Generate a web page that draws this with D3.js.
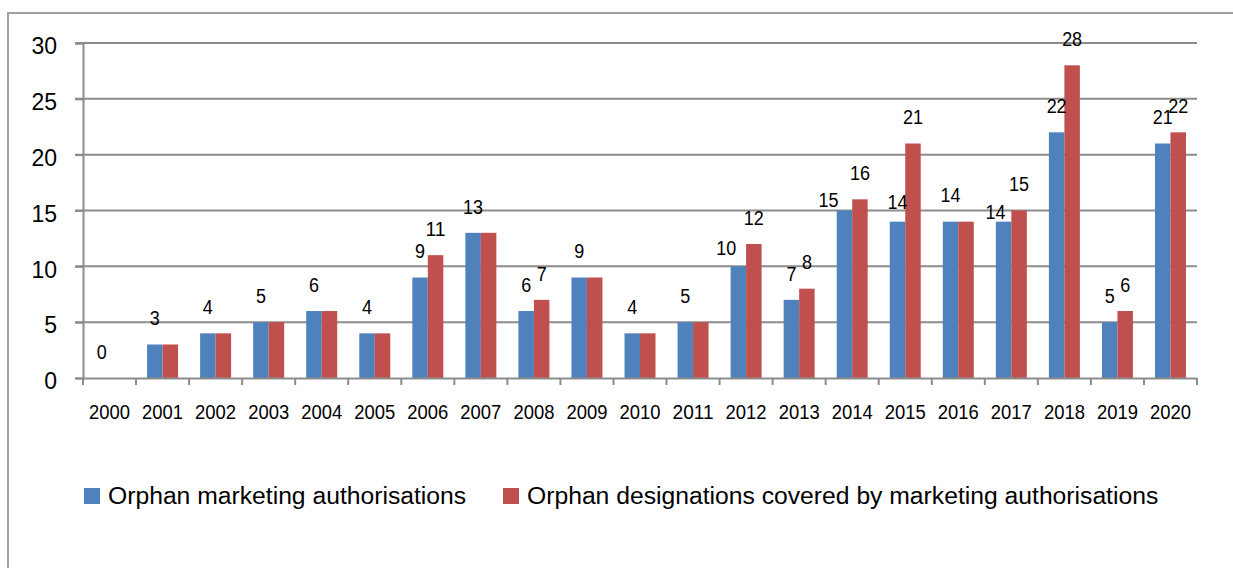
<!DOCTYPE html>
<html>
<head>
<meta charset="utf-8">
<script src="https://cdn.jsdelivr.net/npm/d3@7"></script>
<style>
  body { margin: 0; background: #fff; }
  text { font-family: "Liberation Sans", Arial, sans-serif; fill: #000; }
</style>
</head>
<body>
<div id="chart"></div>
<script>
var years = ["2000","2001","2002","2003","2004","2005","2006","2007","2008","2009","2010",
             "2011","2012","2013","2014","2015","2016","2017","2018","2019","2020"];
var authorisations = [0,3,4,5,6,4,9,13,6,9,4,5,10,7,15,14,14,14,22,5,21];
var designations   = [0,3,4,5,6,4,11,13,7,9,4,5,12,8,16,21,14,15,28,6,22];
var seriesNames = ["Orphan marketing authorisations", "Orphan designations covered by marketing authorisations"];
var yTicks = [0,5,10,15,20,25,30];

// hand-moved data labels of the blue series in the original (pixel nudges)
var labelNudge = { "2012": [-12, 8], "2014": [-16, 15.5], "2015": [0, 7], "2017": [-8, 16.5] };

var width = 1233, height = 568;
var colors = ["#4F81BD", "#C0504D"];
var gridColor = "#8c8c8c";

var svg = d3.select("#chart").append("svg")
  .attr("width", width).attr("height", height);

// outer chart border (runs off the right and bottom edges)
svg.append("rect")
  .attr("x", 8).attr("y", 13)
  .attr("width", 1240).attr("height", 580)
  .attr("fill", "none").attr("stroke", "#a0a0a0").attr("stroke-width", 2);

var margin = { top: 43, left: 83, right: 1197, bottom: 378 };

var x = d3.scaleBand()
  .domain(years)
  .range([margin.left, margin.right])
  .paddingInner(0).paddingOuter(0);

var y = d3.scaleLinear()
  .domain([0, 30])
  .range([margin.bottom, margin.top]);

var barW = x.bandwidth() * 0.292;

// gridlines
svg.append("g").selectAll("line")
  .data(yTicks.filter(function(d) { return d > 0; }))
  .enter().append("line")
  .attr("x1", margin.left - 8).attr("x2", margin.right)
  .attr("y1", function(d) { return y(d); })
  .attr("y2", function(d) { return y(d); })
  .attr("stroke", gridColor).attr("stroke-width", 2);

// y axis
var yAxis = svg.append("g")
  .attr("transform", "translate(" + margin.left + ",0)")
  .call(d3.axisLeft(y).tickValues(yTicks).tickSize(8).tickPadding(18));
yAxis.select(".domain").attr("stroke", gridColor).attr("stroke-width", 2);
yAxis.selectAll(".tick line").attr("stroke", gridColor).attr("stroke-width", 2);
yAxis.selectAll(".tick text")
  .attr("dy", "0.47em")
  .style("font-size", "23px")
  .style("font-family", "Liberation Sans, Arial, sans-serif")
  .attr("fill", "#000");

// bars
var groups = svg.append("g").selectAll("g")
  .data(years)
  .enter().append("g");

groups.append("rect")
  .attr("x", function(d) { return x(d) + x.bandwidth() / 2 - barW; })
  .attr("y", function(d, i) { return y(authorisations[i]); })
  .attr("width", barW)
  .attr("height", function(d, i) { return y(0) - y(authorisations[i]); })
  .attr("fill", colors[0]);

groups.append("rect")
  .attr("x", function(d) { return x(d) + x.bandwidth() / 2; })
  .attr("y", function(d, i) { return y(designations[i]); })
  .attr("width", barW)
  .attr("height", function(d, i) { return y(0) - y(designations[i]); })
  .attr("fill", colors[1]);

// x axis
var xAxis = svg.append("g")
  .attr("transform", "translate(0," + margin.bottom + ")")
  .call(d3.axisBottom(x).tickSize(0).tickPadding(27));
xAxis.select(".domain").attr("stroke", gridColor).attr("stroke-width", 2);
xAxis.selectAll(".tick text")
  .style("font-size", "20px")
  .style("font-family", "Liberation Sans, Arial, sans-serif")
  .attr("textLength", 41)
  .attr("lengthAdjust", "spacingAndGlyphs")
  .attr("fill", "#000");

// category separator ticks
svg.append("g").selectAll("line")
  .data(d3.range(years.length + 1))
  .enter().append("line")
  .attr("x1", function(i) { return margin.left + i * x.step(); })
  .attr("x2", function(i) { return margin.left + i * x.step(); })
  .attr("y1", margin.bottom).attr("y2", margin.bottom + 7)
  .attr("stroke", gridColor).attr("stroke-width", 2);

// data labels
function nudge(d, k) { return labelNudge[d] ? labelNudge[d][k] : 0; }

groups.append("text")
  .attr("x", function(d) { return x(d) + x.bandwidth() / 2 - barW / 2 + nudge(d, 0); })
  .attr("y", function(d, i) { return y(authorisations[i]) - 19.3 + nudge(d, 1); })
  .attr("text-anchor", "middle")
  .style("font-size", "20px")
  .attr("textLength", function(d, i) { return String(authorisations[i]).length * 10; })
  .attr("lengthAdjust", "spacingAndGlyphs")
  .text(function(d, i) { return authorisations[i]; });

groups.filter(function(d, i) { return designations[i] !== authorisations[i]; })
  .append("text")
  .attr("x", function(d) { return x(d) + x.bandwidth() / 2 + barW / 2; })
  .attr("y", function(d) { return y(designations[years.indexOf(d)]) - 19.3; })
  .attr("text-anchor", "middle")
  .style("font-size", "20px")
  .attr("textLength", function(d) { return String(designations[years.indexOf(d)]).length * 10; })
  .attr("lengthAdjust", "spacingAndGlyphs")
  .text(function(d) { return designations[years.indexOf(d)]; });

// legend
var legendX = [84, 503];
var legend = svg.append("g").selectAll("g")
  .data(seriesNames)
  .enter().append("g")
  .attr("transform", function(d, i) { return "translate(" + legendX[i] + ",488)"; });

legend.append("rect")
  .attr("width", 16).attr("height", 16)
  .attr("fill", function(d, i) { return colors[i]; });

legend.append("text")
  .attr("x", 24).attr("y", 16)
  .style("font-size", "24.7px")
  .text(function(d) { return d; });
</script>
</body>
</html>
